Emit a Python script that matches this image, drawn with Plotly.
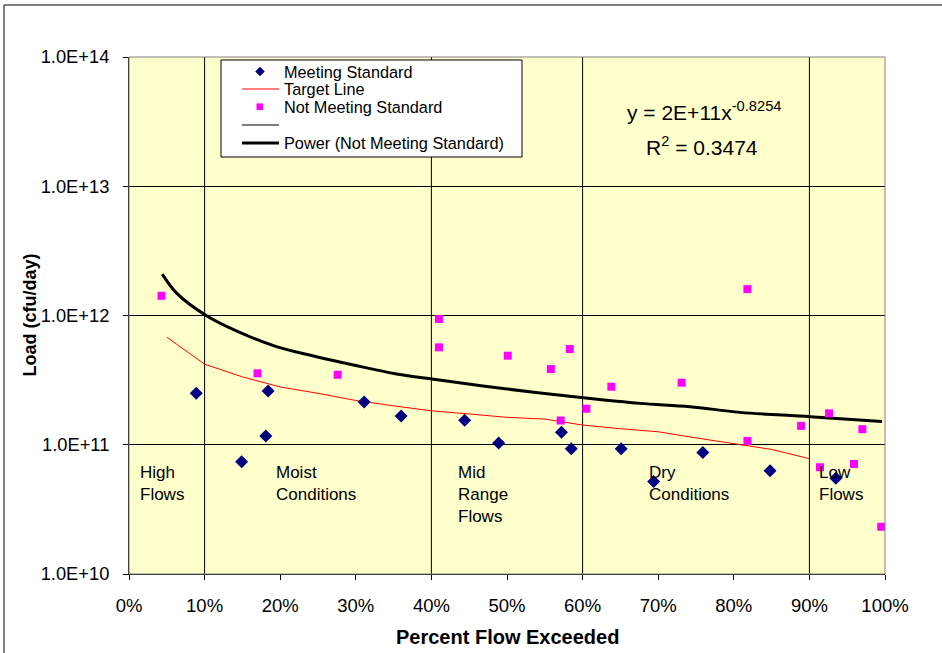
import plotly.graph_objects as go

# ---------------- data ----------------
meet_x = [8.9, 14.9, 18.1, 18.4, 31.1, 36.0, 44.4, 48.9, 57.2, 58.5, 65.1, 69.4, 75.9, 84.8, 93.5]
meet_y = [2.5e11, 7.4e10, 1.17e11, 2.6e11, 2.14e11, 1.67e11, 1.55e11, 1.03e11, 1.25e11,
          9.3e10, 9.3e10, 5.2e10, 8.7e10, 6.3e10, 5.5e10]

notmeet_x = [4.3, 17.0, 27.6, 41.0, 41.0, 50.1, 55.8, 57.1, 58.3, 60.5, 63.8, 73.1, 81.8, 81.8,
             88.9, 91.4, 92.6, 95.9, 97.0, 99.5]
notmeet_y = [1.42e12, 3.57e11, 3.48e11, 9.4e11, 5.67e11, 4.89e11, 3.85e11, 1.54e11, 5.5e11, 1.9e11,
             2.81e11, 3.02e11, 1.6e12, 1.07e11, 1.4e11, 6.7e10, 1.75e11, 7.1e10, 1.32e11, 2.32e10]

target_x = [5, 10, 15, 20, 25, 30, 35, 40, 45, 50, 55, 60, 65, 70, 75, 80, 85, 90]
target_y = [6.8e11, 4.2e11, 3.35e11, 2.8e11, 2.5e11, 2.2e11, 2.0e11, 1.83e11, 1.73e11, 1.63e11,
            1.58e11, 1.42e11, 1.33e11, 1.26e11, 1.13e11, 1.02e11, 9.2e10, 7.8e10]

power_x = [4.4, 6.3, 10.2, 14.2, 19.5, 24.4, 29.7, 35.4, 40.3, 50.0, 60.1, 67.6, 74.2, 80.8, 90.1, 99.6]
power_y = [2.09e12, 1.49e12, 1.0e12, 7.6e11, 5.74e11, 4.86e11, 4.14e11, 3.53e11, 3.21e11, 2.7e11,
           2.31e11, 2.09e11, 1.97e11, 1.78e11, 1.65e11, 1.51e11]

divider_pcts = [10, 40, 60, 90]
y_bottom, y_top = 1e10, 1e14

regions = ["High<br>Flows", "Moist<br>Conditions", "Mid<br>Range<br>Flows", "Dry<br>Conditions", "Low<br>Flows"]
region_x = [1.2, 19.2, 43.3, 68.5, 91.0]

legend_names = ["Meeting Standard", "Target Line", "Not Meeting Standard", "", "Power (Not Meeting Standard)"]

x_ticks = [0, 10, 20, 30, 40, 50, 60, 70, 80, 90, 100]
x_ticktext = ["0%", "10%", "20%", "30%", "40%", "50%", "60%", "70%", "80%", "90%", "100%"]
y_ticks = [1e10, 1e11, 1e12, 1e13, 1e14]
y_ticktext = ["1.0E+10", "1.0E+11", "1.0E+12", "1.0E+13", "1.0E+14"]

FONT = "Arial, 'Liberation Sans', sans-serif"

# plot area in pixels (for placing decorations in paper coordinates)
PL, PR, PT, PB = 129, 885, 57, 574


def px(x):
    return (x - PL) / (PR - PL)


def py(y):
    return (PB - y) / (PB - PT)


# divider lines as a series
div_x, div_y = [], []
for p in divider_pcts:
    div_x += [p, p, None]
    div_y += [y_bottom, y_top, None]

fig = go.Figure()
fig.add_trace(go.Scatter(x=div_x, y=div_y, mode="lines", name=legend_names[3],
                         line=dict(color="black", width=1), hoverinfo="skip"))
fig.add_trace(go.Scatter(x=target_x, y=target_y, mode="lines", name=legend_names[1],
                         line=dict(color="#FF0000", width=1)))
fig.add_trace(go.Scatter(x=power_x, y=power_y, mode="lines", name=legend_names[4],
                         line=dict(color="black", width=3, shape="spline")))
fig.add_trace(go.Scatter(x=meet_x, y=meet_y, mode="markers", name=legend_names[0],
                         marker=dict(symbol="diamond", size=10, color="#000080")))
fig.add_trace(go.Scatter(x=notmeet_x, y=notmeet_y, mode="markers", name=legend_names[2],
                         marker=dict(symbol="square", size=8, color="#FF00FF")))

annotations = []
for txt, rx in zip(regions, region_x):
    annotations.append(dict(x=rx, y=py(461), xref="x", yref="paper", text=txt,
                            showarrow=False, xanchor="left", yanchor="top", align="left",
                            font=dict(family=FONT, size=17, color="black")))

annotations += [
    dict(x=px(704), y=py(111), xref="paper", yref="paper",
         text="y = 2E+11x<sup>-0.8254</sup>", showarrow=False, xanchor="center", yanchor="middle",
         font=dict(family=FONT, size=21, color="black")),
    dict(x=px(702), y=py(146), xref="paper", yref="paper",
         text="R<sup>2</sup> = 0.3474", showarrow=False, xanchor="center", yanchor="middle",
         font=dict(family=FONT, size=21, color="black")),
    dict(x=px(29), y=0.5, xref="paper", yref="paper", text="<b>Load (cfu/day)</b>",
         textangle=-90, showarrow=False, xanchor="center", yanchor="middle",
         font=dict(family=FONT, size=18, color="black")),
    dict(x=0.5, y=py(637), xref="paper", yref="paper", text="<b>Percent Flow Exceeded</b>",
         showarrow=False, xanchor="center", yanchor="middle",
         font=dict(family=FONT, size=20, color="black")),
]

shapes = [
    dict(type="rect", xref="paper", yref="paper", x0=0, x1=1, y0=0, y1=1,
         line=dict(color="#808080", width=1), layer="above"),
    dict(type="rect", xref="paper", yref="paper",
         x0=px(4), x1=px(960), y0=py(680), y1=py(5),
         line=dict(color="black", width=1), layer="below"),
    # legend box
    dict(type="rect", xref="paper", yref="paper", x0=px(221), x1=px(522), y0=py(157), y1=py(60),
         line=dict(color="black", width=1), fillcolor="white", layer="above"),
]

# legend rows (y pixel centres)
row_y = [71.5, 89, 106.7, 125, 143]
for name, ry in zip(legend_names, row_y):
    if name:
        annotations.append(dict(x=px(282), y=py(ry), xref="paper", yref="paper", text=name,
                                showarrow=False, xanchor="left", yanchor="middle",
                                font=dict(family=FONT, size=16.3, color="black")))
# symbols
cx, cy, r = 260, row_y[0], 4.5
shapes.append(dict(type="path", xref="paper", yref="paper", layer="above",
                   path=f"M{px(cx)},{py(cy - r)} L{px(cx + r)},{py(cy)} L{px(cx)},{py(cy + r)} L{px(cx - r)},{py(cy)} Z",
                   fillcolor="#000080", line=dict(color="#000080", width=0.5)))
shapes.append(dict(type="line", xref="paper", yref="paper", layer="above",
                   x0=px(242), x1=px(279), y0=py(row_y[1]), y1=py(row_y[1]),
                   line=dict(color="#FF0000", width=1)))
shapes.append(dict(type="rect", xref="paper", yref="paper", layer="above",
                   x0=px(256.5), x1=px(263), y0=py(row_y[2] + 3.3), y1=py(row_y[2] - 3.3),
                   fillcolor="#FF00FF", line=dict(color="#FF00FF", width=0)))
shapes.append(dict(type="line", xref="paper", yref="paper", layer="above",
                   x0=px(242), x1=px(279), y0=py(row_y[3]), y1=py(row_y[3]),
                   line=dict(color="black", width=1)))
shapes.append(dict(type="line", xref="paper", yref="paper", layer="above",
                   x0=px(242), x1=px(279), y0=py(row_y[4]), y1=py(row_y[4]),
                   line=dict(color="black", width=3)))

fig.update_layout(
    width=942, height=653,
    margin=dict(l=PL, r=942 - PR, t=PT, b=653 - PB),
    paper_bgcolor="white", plot_bgcolor="#FFFFCC",
    font=dict(family=FONT, size=17, color="black"),
    showlegend=False,
    annotations=annotations,
    shapes=shapes,
)
fig.update_xaxes(range=[0, 100], tickmode="array", tickvals=x_ticks, ticktext=x_ticktext,
                 showgrid=False, zeroline=False, showline=True, linecolor="black", linewidth=1,
                 ticks="outside", ticklen=5, tickcolor="black", ticklabelstandoff=10,
                 tickfont=dict(family=FONT, size=18.5, color="black"))
fig.update_yaxes(type="log", range=[10, 14], tickmode="array", tickvals=y_ticks, ticktext=y_ticktext,
                 showgrid=True, gridcolor="black", gridwidth=1, zeroline=False,
                 showline=True, linecolor="black", linewidth=1,
                 ticks="outside", ticklen=5, tickcolor="black", ticklabelstandoff=10,
                 tickfont=dict(family=FONT, size=18.3, color="black"))

fig.write_html("out.html")
